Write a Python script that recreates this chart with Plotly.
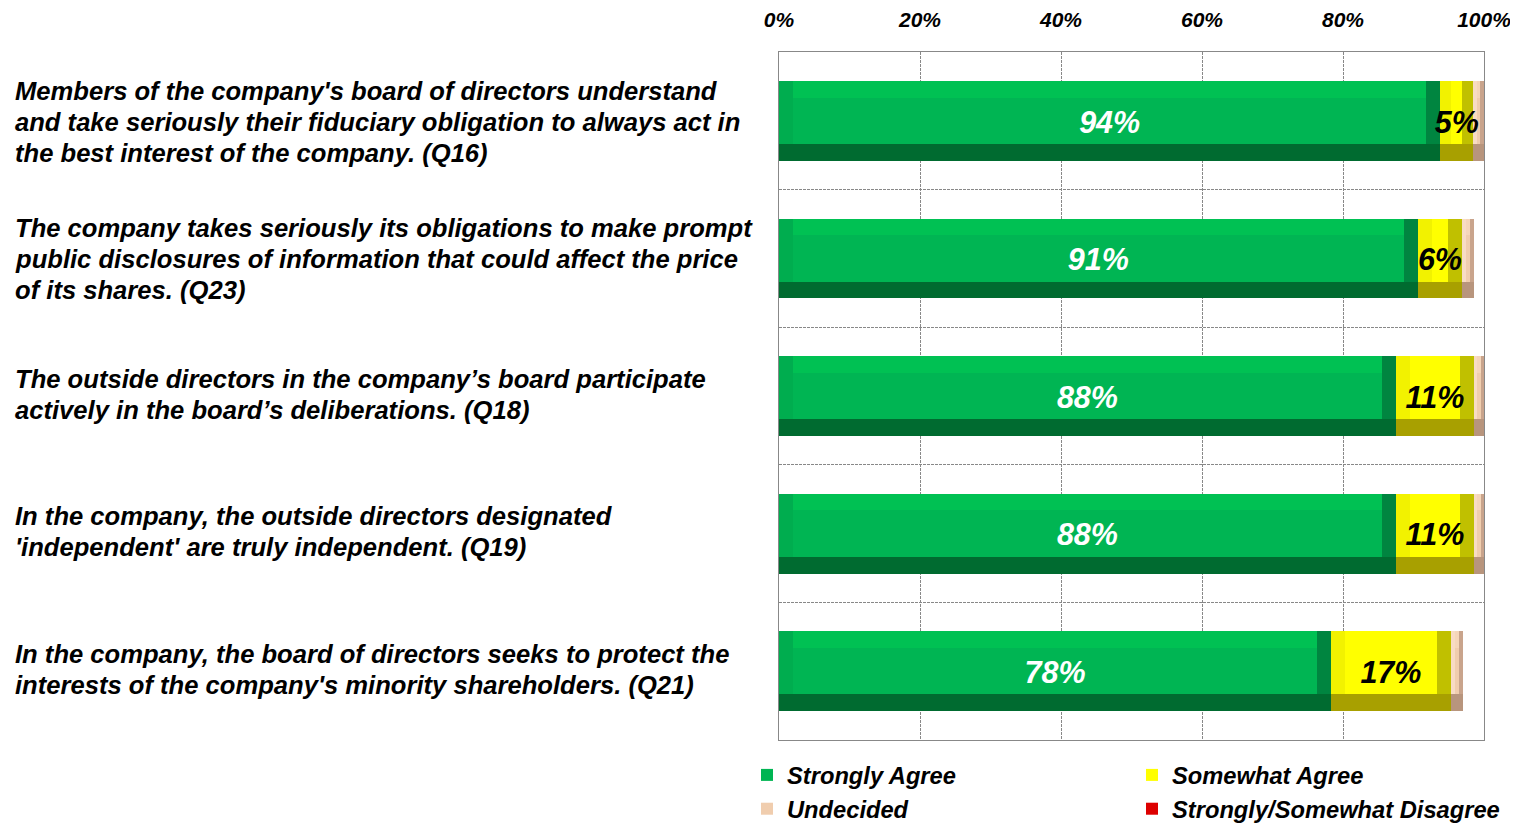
import plotly.graph_objects as go

questions = [
    ["Members of the company's board of directors understand",
     "and take seriously their fiduciary obligation to always act in",
     "the best interest of the company. (Q16)"],
    ["The company takes seriously its obligations to make prompt",
     "public disclosures of information that could affect the price",
     "of its shares. (Q23)"],
    ["The outside directors in the company\u2019s board participate",
     "actively in the board\u2019s deliberations. (Q18)"],
    ["In the company, the outside directors designated",
     "'independent' are truly independent. (Q19)"],
    ["In the company, the board of directors seeks to protect the",
     "interests of the company's minority shareholders. (Q21)"],
]
series_names = ["Strongly Agree", "Somewhat Agree", "Undecided", "Strongly/Somewhat Disagree"]
strongly = [93.8, 90.6, 87.5, 87.5, 78.3]
somewhat = [4.7, 6.3, 11.1, 11.1, 17.0]
undecided = [1.5, 1.7, 1.4, 1.4, 1.7]
disagree = [0, 0, 0, 0, 0]
labels_strongly = ["94%", "91%", "88%", "88%", "78%"]
labels_somewhat = ["5%", "6%", "11%", "11%", "17%"]
tick_vals = [0, 20, 40, 60, 80, 100]
tick_text = ["0%", "20%", "40%", "60%", "80%", "100%"]

# face, top bevel, left bevel, right bevel, bottom bevel
palette = [
    ("#00B553", "#00C153", "#00AD4F", "#008540", "#006B30"),
    ("#FFFF00", "#FFFF00", "#F2F200", "#C0C000", "#A8A000"),
    ("#F0CDAE", "#F5D6BA", "#F8DCC4", "#C9A48C", "#B8957D"),
    ("#DD0000", "#E81010", "#E01010", "#A00000", "#880000"),
]
legend_of = ["legend", "legend2", "legend", "legend2"]

FONT = "Liberation Sans, Arial, sans-serif"
cats = list(range(len(questions)))
BW = 0.58          # bar thickness in category units
BOT = 0.21 * BW    # bottom bevel band
TOP = 0.21 * BW    # top bevel band
BEV = 2.0          # side bevel in % units

# plot area (page body adds an 8px offset)
PL, PW = 771, 705

fig = go.Figure()
all_vals = [strongly, somewhat, undecided, disagree]
starts = [0.0] * len(cats)
for s, vals in enumerate(all_vals):
    face, top, left, right, bottom = palette[s]
    bases = list(starts)
    bev = [min(BEV, v / 3) for v in vals]
    inner = [max(v - 2 * b, 0) for v, b in zip(vals, bev)]
    inner_base = [st + b for st, b in zip(bases, bev)]
    common = dict(y=cats, orientation="h", showlegend=False, hoverinfo="skip")
    # full bar -> bottom bevel colour
    fig.add_trace(go.Bar(x=vals, base=bases, width=BW, offset=-BW / 2,
                         marker=dict(color=bottom, line_width=0), **common))
    # upper part -> right bevel colour
    fig.add_trace(go.Bar(x=vals, base=bases, width=BW - BOT, offset=-BW / 2,
                         marker=dict(color=right, line_width=0), **common))
    # left bevel strip
    fig.add_trace(go.Bar(x=bev, base=bases, width=BW - BOT, offset=-BW / 2,
                         marker=dict(color=left, line_width=0), **common))
    # top bevel band
    fig.add_trace(go.Bar(x=inner, base=inner_base, width=BW - BOT, offset=-BW / 2,
                         marker=dict(color=top, line_width=0), **common))
    # face
    fig.add_trace(go.Bar(x=inner, base=inner_base,
                         width=BW - TOP - BOT, offset=-BW / 2 + TOP,
                         marker=dict(color=face, line_width=0),
                         y=cats, orientation="h", hoverinfo="skip",
                         name=series_names[s], showlegend=True,
                         legend=legend_of[s]))
    starts = [st + v for st, v in zip(starts, vals)]

# value labels (nudged a few px down, as in the original)
label_y = [c + 0.03 for c in cats]
fig.add_trace(go.Scatter(
    x=[v / 2 for v in strongly], y=label_y, mode="text", text=labels_strongly,
    textfont=dict(family=FONT, size=30.5, color="white", weight="bold", style="italic"),
    showlegend=False, hoverinfo="skip"))
fig.add_trace(go.Scatter(
    x=[a + b / 2 for a, b in zip(strongly, somewhat)], y=label_y, mode="text",
    text=labels_somewhat,
    textfont=dict(family=FONT, size=30.5, color="black", weight="bold", style="italic"),
    showlegend=False, hoverinfo="skip"))

# question labels on the left, one annotation per line
LINE = 31
for i, lines in enumerate(questions):
    n = len(lines)
    for k, line in enumerate(lines):
        fig.add_annotation(
            x=(5 - PL) / PW, xref="paper", xanchor="left",
            y=i, yref="y", yanchor="middle",
            yshift=((n - 1) / 2 - k) * LINE + (-1 if n == 3 else 2),
            text=line, showarrow=False, align="left",
            font=dict(family=FONT, size=25.6, color="black", weight="bold", style="italic"))

leg_font = dict(family=FONT, size=23.7, weight="bold", style="italic")
fig.update_layout(
    width=1518, height=823,
    margin=dict(l=PL, r=1518 - PL - PW, t=44, b=91),
    barmode="overlay",
    bargap=0,
    plot_bgcolor="white", paper_bgcolor="white",
    font=dict(family=FONT, color="black"),
    xaxis=dict(range=[0, 100], side="top", tickvals=tick_vals, ticktext=tick_text,
               ticklabelstandoff=16, automargin=False,
               tickfont=dict(family=FONT, size=21, weight="bold", style="italic"),
               showgrid=True, gridcolor="#888888", griddash="3px,1px", gridwidth=1,
               showline=True, linecolor="#888888", linewidth=1, mirror=True,
               zeroline=False, fixedrange=True),
    yaxis=dict(range=[4.5, -0.5], tickvals=[0.5, 1.5, 2.5, 3.5], showticklabels=False,
               automargin=False,
               showgrid=True, gridcolor="#888888", griddash="3px,1px", gridwidth=1,
               showline=True, linecolor="#888888", linewidth=1, mirror=True,
               zeroline=False, fixedrange=True),
    legend=dict(x=(739 - PL) / PW, xanchor="left", y=0, yanchor="bottom",
                yref="container", itemwidth=30, font=leg_font,
                traceorder="normal", bgcolor="rgba(0,0,0,0)"),
    legend2=dict(x=(1124 - PL) / PW, xanchor="left", y=0, yanchor="bottom",
                 yref="container", itemwidth=30, font=leg_font,
                 traceorder="normal", bgcolor="rgba(0,0,0,0)"),
)

fig.write_html("out.html")
